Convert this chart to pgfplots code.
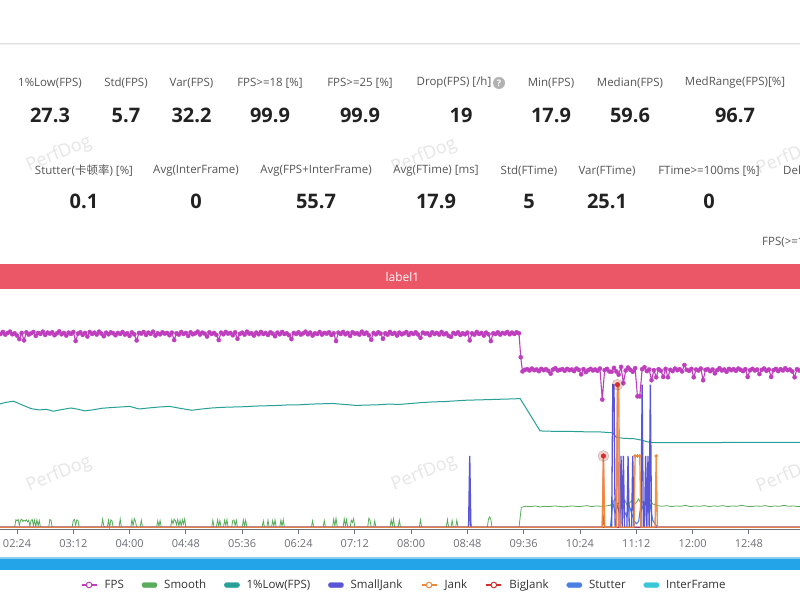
\documentclass[border=0pt]{standalone}
\usepackage{pgfplots}
\pgfplotsset{compat=1.18}
\usepackage{fontspec}
\setmainfont{Open Sans}
\newfontfamily\cjk{Noto Sans CJK SC}

\definecolor{cFPS}{RGB}{190,62,190}
\definecolor{cSmooth}{RGB}{88,172,92}
\definecolor{cLow}{RGB}{40,160,152}
\definecolor{cSmall}{RGB}{88,86,214}
\definecolor{cJank}{RGB}{240,136,58}
\definecolor{cBig}{RGB}{214,44,44}
\definecolor{cStutter}{RGB}{72,128,228}
\definecolor{cInter}{RGB}{58,200,216}
\definecolor{axisgray}{RGB}{110,112,121}
\definecolor{lblgray}{RGB}{85,85,85}
\definecolor{valblack}{RGB}{34,34,34}
\definecolor{legtext}{RGB}{51,51,51}
\definecolor{barred}{RGB}{235,87,102}
\definecolor{barblue}{RGB}{36,164,232}
\definecolor{wmgray}{RGB}{230,230,230}

\newcommand\fs[1]{\fontsize{#1bp}{#1bp}\selectfont}
% one statistic: x, label y, value y, label, value
\newcommand\stat[5]{%
  \node[font=\fs{11.5}, text=lblgray] at (#1bp,#2bp) {#4};
  \node[font=\fs{20}\bfseries, text=valblack] at (#1bp,#3bp) {#5};}

\pgfplotsset{
  lgline/.style={legend image code/.code={
      \draw[#1, line width=2.2bp] (0bp,0bp) -- (15bp,0bp);
      \draw[#1, line width=1bp, fill=white] (7.5bp,0bp) circle (2.8bp);}},
  lgbar/.style={legend image code/.code={
      \fill[#1, rounded corners=1.5bp] (0bp,-2.3bp) rectangle (15bp,2.3bp);}},
}

\begin{document}
\begin{tikzpicture}
\useasboundingbox (0,0) rectangle (800bp,600bp);
\fill[white] (0,0) rectangle (800bp,600bp);

% header rule
\draw[black!12, line width=1bp] (0,556bp) -- (800bp,556bp);
\draw[black!5, line width=1bp] (0,555bp) -- (800bp,555bp);

% watermarks
\foreach \x/\y in {59/446, 424/444, 789/443, 59/126, 424/127, 789/125}
  \node[rotate=22, text=wmgray, font=\fs{18}] at (\x bp,\y bp) {PerfDog};

% statistics, first row
\stat{50}{517}{485}{1\%Low(FPS)}{27.3}
\stat{126}{517}{485}{Std(FPS)}{5.7}
\stat{191.5}{517}{485}{Var(FPS)}{32.2}
\stat{270}{517}{485}{FPS>=18 [\%]}{99.9}
\stat{360}{517}{485}{FPS>=25 [\%]}{99.9}
\node[font=\fs{11.5}, text=lblgray] at (454bp,517bp) {Drop(FPS) [/h]};
\fill[black!30] (499bp,517bp) circle (6bp);
\node[font=\fs{9}\bfseries, text=white] at (499bp,517bp) {?};
\node[font=\fs{20}\bfseries, text=valblack] at (461bp,485bp) {19};
\stat{551}{517}{485}{Min(FPS)}{17.9}
\stat{630}{517}{485}{Median(FPS)}{59.6}
\stat{735}{517}{485}{MedRange(FPS)[\%]}{96.7}

% statistics, second row
\stat{84}{429}{399}{Stutter({\cjk 卡顿率}) [\%]}{0.1}
\stat{196}{429}{399}{Avg(InterFrame)}{0}
\stat{316}{429}{399}{Avg(FPS+InterFrame)}{55.7}
\stat{436}{429}{399}{Avg(FTime) [ms]}{17.9}
\stat{529}{429}{399}{Std(FTime)}{5}
\stat{607}{429}{399}{Var(FTime)}{25.1}
\stat{709}{429}{399}{FTime>=100ms [\%]}{0}
\node[font=\fs{11.5}, text=lblgray, anchor=west, inner xsep=0pt] at (783bp,429bp) {Delta(FTime)};

\node[font=\fs{11.5}, text=lblgray, anchor=west, inner xsep=0pt] at (762bp,358bp) {FPS(>=18)[\%]};

% label band
\fill[barred] (0,311bp) rectangle (800bp,335.5bp);
\node[font=\fs{12}, text=white] at (402.5bp,322.5bp) {label1};

% time range slider
\fill[barblue] (0,30bp) rectangle (800bp,43.3bp);
\fill[barblue!55] (0,40.5bp) rectangle (800bp,43.3bp);

% ---------- FPS scale ----------
\begin{axis}[
  at={(0bp,70.5bp)}, anchor=south west,
  width=800bp, height=237.5bp, scale only axis,
  xmin=129.5, xmax=811.6, ymin=-0.68, ymax=72.77,
  axis x line*=bottom, axis y line=none,
  x axis line style={draw=axisgray, line width=0.9bp, -},
  xtick={144,192,240,288,336,384,432,480,528,576,624,672,720,768},
  xticklabels={02:24,03:12,04:00,04:48,05:36,06:24,07:12,08:00,08:48,09:36,10:24,11:12,12:00,12:48},
  xtick style={draw=axisgray, line width=0.9bp},
  tick align=outside, major tick length=5bp,
  xticklabel style={font=\fs{11}, text=axisgray, yshift=-1.5bp},
  legend columns=8,
  legend cell align=left,
  legend style={at={(0.50625,-0.2337)}, anchor=center, draw=none, fill=none,
    font=\fs{11.5}, text=legtext, column sep=3bp,
    /tikz/every even column/.append style={column sep=14bp},
    nodes={inner xsep=4bp, inner ysep=1bp}},
]
\addlegendimage{lgline=cFPS}\addlegendentry{FPS}
\addlegendimage{lgbar=cSmooth}\addlegendentry{Smooth}
\addlegendimage{lgbar=cLow}\addlegendentry{1\%Low(FPS)}
\addlegendimage{lgbar=cSmall}\addlegendentry{SmallJank}
\addlegendimage{lgline=cJank}\addlegendentry{Jank}
\addlegendimage{lgline=cBig}\addlegendentry{BigJank}
\addlegendimage{lgbar=cStutter}\addlegendentry{Stutter}
\addlegendimage{lgbar=cInter}\addlegendentry{InterFrame}

% FPS
\addplot[forget plot, cFPS, line width=1.1bp, mark=*, mark size=2.1bp,
  mark options={fill=cFPS, draw=cFPS, line width=0.3bp}] coordinates {
(128,60.2)(130,59.8)(132,60.4)(134,59.6)(136,60.1)(138,60.5)(140,59.7)(142,60.0)(144,59.3)(146,58.2)
(148,60.1)(150,57.8)(152,60.3)(154,59.6)(156,60.0)(158,60.4)(160,59.2)(162,60.1)(164,59.8)(166,60.5)
(168,59.5)(170,60.2)(172,59.9)(174,60.3)(176,59.4)(178,60.0)(180,60.6)(182,59.7)(184,60.1)(186,59.3)
(188,60.2)(190,59.8)(192,60.4)(194,57.6)(196,59.9)(198,60.3)(200,59.5)(202,60.1)(204,59.0)(206,60.4)
(208,59.8)(210,60.2)(212,59.6)(214,60.5)(216,59.9)(218,59.1)(220,60.2)(222,59.7)(224,60.3)(226,60.0)
(228,59.4)(230,60.1)(232,59.8)(234,60.4)(236,59.6)(238,60.0)(240,59.2)(242,60.3)(244,59.7)(246,57.8)
(248,60.1)(250,59.9)(252,60.4)(254,59.5)(256,60.2)(258,59.8)(260,60.5)(262,59.3)(264,60.0)(266,59.7)
(268,60.3)(270,59.9)(272,60.1)(274,59.4)(276,60.2)(278,57.9)(280,60.0)(282,59.6)(284,60.4)(286,59.8)
(288,60.1)(290,59.2)(292,60.3)(294,59.7)(296,60.0)(298,60.5)(300,59.6)(302,60.2)(304,59.9)(306,59.0)
(308,60.3)(310,59.8)(312,60.1)(314,59.5)(316,57.9)(318,60.2)(320,59.7)(322,60.4)(324,59.9)(326,60.1)
(328,59.4)(330,60.3)(332,58.3)(334,59.8)(336,60.2)(338,59.6)(340,60.5)(342,59.9)(344,60.0)(346,59.3)
(348,60.2)(350,59.7)(352,60.4)(354,59.8)(356,60.1)(358,59.5)(360,60.3)(362,59.9)(364,59.1)(366,60.2)
(368,59.7)(370,60.4)(372,59.8)(374,60.0)(376,59.4)(378,58.2)(380,60.1)(382,59.8)(384,60.3)(386,59.6)
(388,60.0)(390,60.5)(392,59.7)(394,60.2)(396,59.3)(398,60.0)(400,59.8)(402,60.4)(404,59.6)(406,60.1)
(408,59.9)(410,60.3)(412,59.5)(414,60.0)(416,57.6)(418,60.2)(420,59.8)(422,60.4)(424,59.7)(426,60.1)
(428,59.2)(430,60.3)(432,59.9)(434,60.0)(436,59.6)(438,60.5)(440,59.8)(442,60.2)(444,59.4)(446,58.0)
(448,60.1)(450,59.7)(452,60.3)(454,59.9)(456,58.3)(458,60.0)(460,59.6)(462,60.4)(464,59.8)(466,60.1)
(468,59.3)(470,60.2)(472,59.7)(474,60.0)(476,60.4)(478,59.5)(480,60.1)(482,59.8)(484,60.3)(486,59.6)
(488,58.6)(490,60.2)(492,59.9)(494,60.0)(496,59.4)(498,60.3)(500,59.8)(502,60.1)(504,59.6)(506,60.4)
(508,59.7)(510,60.0)(512,59.2)(514,58.9)(516,60.1)(518,59.8)(520,60.3)(522,59.5)(524,60.0)(526,59.7)
(528,60.2)(530,57.8)(532,60.0)(534,59.6)(536,60.4)(538,59.8)(540,60.1)(542,59.3)(544,60.2)(546,59.7)
(548,57.6)(550,60.0)(552,59.8)(554,60.3)(556,59.6)(558,60.1)(560,59.9)(562,60.4)(564,59.7)(566,60.2)
(568,59.8)(570,60.3)(572,60.0)(573.5,52.6)
(575,48.2)(577,48.7)(579,48.9)(581,48.5)(583,49.1)(585,48.6)(587,48.8)(589,48.3)(591,49.0)(593,48.6)
(595,48.9)(597,48.4)(599,47.5)(601,48.8)(603,49.2)(605,48.5)(607,48.7)(609,48.9)(611,48.4)(613,49.0)
(615,48.6)(617,48.8)(619,48.3)(621,49.1)(623,48.7)(625,47.3)(627,48.9)(629,48.0)(631,48.6)(633,49.0)
(635,48.5)(637,48.8)(639,48.4)(641,49.1)(643,39.5)(645,48.6)(647,49.0)(649,48.2)(651,48.1)(653,49.3)
(655,48.2)(657,47.2)(659,49.6)(661,44.6)(663,48.5)(665,49.4)(667,48.7)(669,48.1)(671,49.2)(673,40.5)
(675,40.5)(677,48.9)(679,49.5)(681,48.3)(683,48.8)(685,45.5)(687,48.6)(689,46.4)(691,48.9)(693,48.4)
(695,46.5)(697,49.0)(699,46.4)(701,48.7)(703,48.3)(705,49.1)(707,48.6)(709,48.9)(711,48.2)(713,50.2)
(715,48.7)(717,48.4)(719,49.0)(721,46.4)(723,48.8)(725,48.5)(727,49.1)(729,45.5)(731,48.7)(733,48.9)
(735,48.3)(737,48.8)(739,47.6)(741,48.6)(743,49.2)(745,48.5)(747,48.8)(749,48.1)(751,49.0)(753,48.6)
(755,48.9)(757,48.4)(759,49.1)(761,48.7)(763,48.3)(765,48.9)(767,46.5)(769,48.6)(771,49.0)(773,48.5)
(775,48.8)(777,47.4)(779,48.7)(781,49.1)(783,48.4)(785,48.8)(787,46.5)(789,48.6)(791,49.0)(793,48.3)
(795,48.9)(797,48.5)(799,49.2)(801,48.6)(803,48.8)(805,48.2)(807,46.4)(809,48.9)(811,48.5)(813,48.7)
};

% Smooth
\addplot[forget plot, cSmooth, line width=0.8bp] coordinates {
(128,0)(142,0)(143,2.3)(144,2.0)(145,2.4)(146,0.6)(147,2.2)(148,2.5)(149,1.8)(150,2.2)(151,1.9)(152,2.3)
(153,1.7)(154,2.2)(155,0.4)(156,2.1)(157,2.4)(158,0.5)(159,2.2)(160,0.3)(161,2.3)(162,0.5)(163,2.1)(164,0)
(171,0)(172,2.4)(173,2.2)(174,0)
(191,0)(192,2.2)(193,2.4)(194,0.6)(195,2.3)(196,2.1)(197,0)
(216,0)(217,2.5)(218,0.4)(219,0)(221,0)(222,2.2)(223,0)(224,2.3)(225,2.0)(226,0)
(231,0)(232,2.6)(233,0)
(241,0)(242,2.4)(243,0.5)(244,2.7)(245,1.9)(246,0)(249,0)(250,2.2)(251,0)
(263,0)(264,2.0)(265,0.3)(266,2.1)(267,0)
(275,0)(276,2.3)(277,1.1)(278,2.5)(279,2.1)(280,0.8)(281,2.4)(282,0.4)(283,2.2)(284,0.5)(285,2.3)(286,1.0)(287,2.6)(288,0)
(310,0)(311,2.2)(312,0)(314,0)(315,2.3)(316,0.4)(317,2.1)(318,0)(320,0)(321,2.2)(322,0.6)(323,2.4)(324,0)
(327,0)(328,2.1)(329,2.3)(330,0.5)(331,2.2)(332,0)(336,0)(337,2.3)(338,0.4)(339,2.2)(340,0)
(353,0)(354,2.0)(355,0)(357,0)(358,2.2)(359,0)(361,0)(362,2.1)(363,0.4)(364,2.3)(365,0)(368,0)(369,2.2)(370,0.3)(371,2.4)(372,0)
(395,0)(396,2.0)(397,0)(405,0)(406,2.1)(407,0)
(413,0)(414,2.5)(415,0.4)(416,2.8)(417,0.3)(418,0)(422,0)(423,2.6)(424,0.5)(425,2.4)(426,0)(428,0)(429,2.2)(430,1.5)(431,2.7)(432,0)
(443,0)(444,2.8)(445,2.2)(446,0)(448,0)(449,2.0)(450,0)
(462,0)(463,2.3)(464,0.5)(465,2.6)(466,0)(469,0)(470,2.2)(471,0)
(487,0)(488,2.3)(489,0)
(510,0)(511,2.4)(512,0)(514,0)(515,2.1)(516,0)(518,0)(519,2.2)(520,0)
(545,0)(546,2.6)(547,3.2)(548,2.4)(549,0)
(572,0)(574,6.2)(578,6.5)(582,6.4)(586,6.6)(590,6.3)(594,6.5)(598,6.4)(602,6.6)(606,6.5)(610,6.3)
(614,6.5)(618,6.6)(622,6.4)(626,6.5)(630,6.7)(634,6.4)(638,6.6)(642,6.5)(646,6.6)(650,6.8)(652,7.6)
(654,8.9)(656,7.2)(658,7.8)(660,6.9)(662,8.5)(664,7.0)(666,7.4)(668,8.2)(670,7.1)(672,7.6)(674,8.8)
(676,7.3)(678,7.9)(680,7.0)(682,7.7)(684,8.4)(686,7.2)(688,7.0)(690,6.7)(694,6.5)(698,6.7)(702,6.4)
(706,6.6)(710,6.5)(714,6.8)(718,6.4)(722,6.6)(726,6.5)(730,6.7)(734,6.4)(738,6.6)(742,6.5)(746,6.7)
(750,6.4)(754,6.6)(758,6.5)(762,6.8)(766,6.5)(770,6.4)(774,6.6)(778,6.5)(782,6.7)(786,6.4)(790,6.6)
(794,6.5)(798,6.8)(802,6.5)(806,6.6)(810,6.4)(814,6.6)
};

% 1%Low(FPS)
\addplot[forget plot, cLow, line width=1bp] coordinates {
(128,38.0)(134,38.6)(141,39.0)(148,37.9)(156,36.7)(163,36.3)(169,36.5)(175,35.9)(182,36.4)(190,36.9)
(196,36.5)(202,36.0)(210,36.4)(216,36.8)(223,37.0)(232,37.2)(240,37.4)(248,36.6)(256,36.9)(265,37.2)
(274,37.4)(283,36.8)(293,36.2)(302,36.6)(310,36.9)(319,37.1)(328,37.2)(338,37.3)(348,37.5)(358,37.6)
(368,37.7)(377,37.9)(385,37.9)(395,38.1)(404,38.2)(413,38.3)(423,38.0)(433,37.7)(443,37.8)(452,37.9)
(461,38.1)(470,38.0)(480,38.3)(490,38.6)(500,38.8)(509,38.9)(518,39.1)(527,39.3)(537,39.4)(547,39.5)
(556,39.6)(565,39.7)(573,39.8)(590,29.8)(600,29.7)(612,29.7)(622,29.6)(632,29.5)(641,29.5)(645,29.4)
(652,29.2)(655,27.8)(662,27.5)(670,27.4)(676,27.0)(682,26.4)(686,26.2)(700,26.2)(718,26.2)(740,26.2)
(760,26.3)(780,26.3)(800,26.3)(814,26.3)
};
\end{axis}

% ---------- jank counts scale ----------
\begin{axis}[
  at={(0bp,70.5bp)}, anchor=south west,
  width=800bp, height=237.5bp, scale only axis,
  xmin=129.5, xmax=811.6, ymin=-0.031, ymax=3.3,
  axis lines=none,
]
% InterFrame
\addplot[cInter, line width=1bp] coordinates {(128,0)(814,0)};
% Stutter
\addplot[cStutter, line width=1.1bp] coordinates {
(128,0)(529,0)(530,0.27)(531,0)(643,0)(644,0.13)(645,0)(650,0)(652,0.35)(654,0.2)(656,0.3)(658,0.18)
(660,0.38)(662,0.22)(664,0.15)(666,0.3)(668,0.2)(670,0.1)(672,0.05)(674,0.08)(676,0.32)(678,0.25)
(680,0.4)(682,0.2)(684,0.3)(686,0.1)(688,0.05)(690,0)(814,0)
};
% SmallJank
\addplot[cSmall, line width=1.3bp] coordinates {
(128,0)(529,0)(530,1)(531,0)(651,0)(652,2)(653,2)(654,0)(658,0)(659,1)(660,0)(661,1)(662,0)
(664,0)(665,1)(666,0)(668,0)(669,1)(670,0)(676,0)(677,2)(678,0)(679,0)(680,1)(681,0)(682,1)(683,0)
(684,2)(685,0)(814,0)
};
% BigJank
\addplot[cBig, line width=1.2bp, opacity=0.6] coordinates {
(128,0)(643,0)(644,1)(645,0)(655,0)(656,2)(657,0)(814,0)
};
% Jank
\addplot[cJank, line width=1.4bp, opacity=0.9] coordinates {
(128,0)(643,0)(644,1)(645,0)(655,0)(656,2)(657,2)(658,0)(670,0)(671,1)(672,1)(673,1)(674,1)(675,1)
(676,0)(688,0)(689,1)(690,0)(814,0)
};
\addplot[only marks, mark=*, mark size=1.6bp, mark options={fill=cJank, draw=cJank}] coordinates {
(671,1)(673,1)(675,1)(689,1)
};
% BigJank points
\addplot[only marks, mark=*, mark size=5.5bp, mark options={fill=cBig, draw=none, opacity=0.22}] coordinates {
(644,1)(656,2)
};
\addplot[only marks, mark=*, mark size=2.3bp, mark options={fill=cBig, draw=cBig}] coordinates {
(644,1)(656,2)
};
\end{axis}
\end{tikzpicture}
\end{document}
